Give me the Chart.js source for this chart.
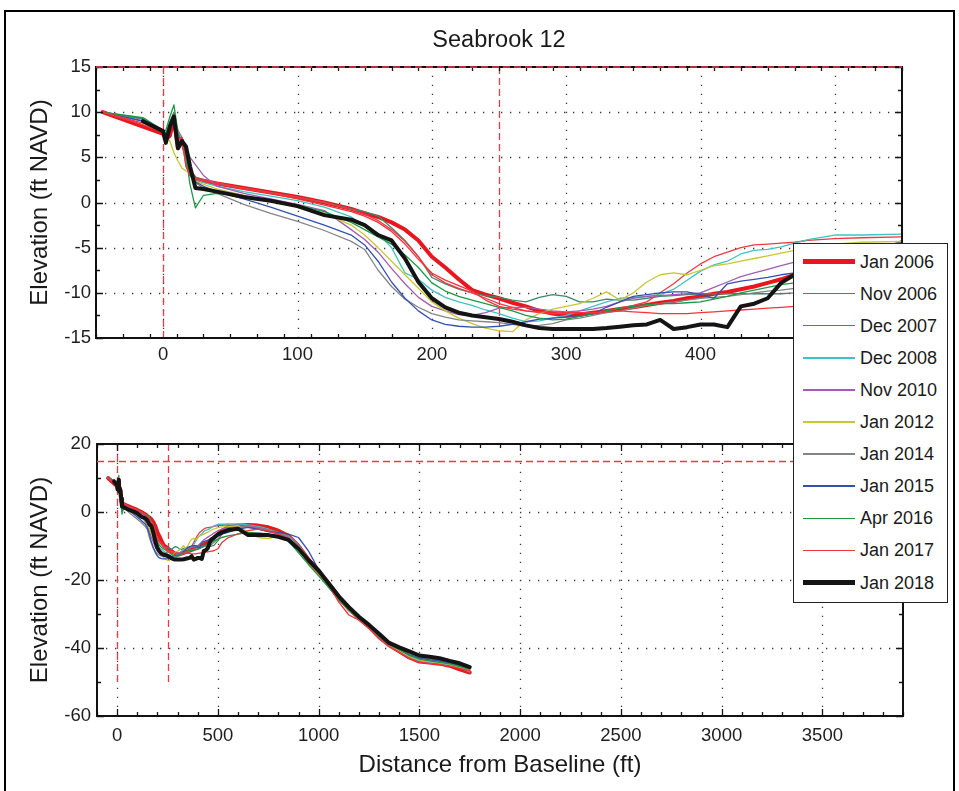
<!DOCTYPE html>
<html>
<head>
<meta charset="utf-8">
<script src="https://cdn.jsdelivr.net/npm/chart.js@4.4.1/dist/chart.umd.min.js"></script>
<style>
html,body{margin:0;padding:0;background:#fff;}
body{width:959px;height:791px;position:relative;overflow:hidden;}
#frame{position:absolute;left:4px;top:10px;width:951px;height:820px;border:2px solid #000;box-sizing:border-box;}
#c1{position:absolute;left:0;top:0;}
#c2{position:absolute;left:0;top:400px;}
#title{position:absolute;left:0;width:998px;text-align:center;color:#1a1a1a;white-space:nowrap;}
#legend{position:absolute;left:793px;top:243px;width:155px;height:360px;border:1.5px solid #222;background:#fff;box-sizing:border-box;}
.sw{position:absolute;left:8.5px;width:52px;}
.lt{position:absolute;left:66px;white-space:nowrap;color:#1a1a1a;}
</style>
</head>
<body>
<div id="frame"></div>
<canvas id="c1" width="959" height="400"></canvas>
<canvas id="c2" width="959" height="391"></canvas>
<div id="title">Seabrook 12</div>
<div id="legend"></div>
<script>
// ---------------- data (ft) ----------------
const distance = [-45,-15,0,2,5,8,11,14,17,20,24,
  30,40,60,80,100,120,140,
  150,160,170,180,190,200,210,220,230,240,250,260,270,280,290,300,310,320,330,340,350,360,370,380,390,400,410,420,430,440,450,460,470,480,
  500,520,550,
  600,650,700,750,800,850,900,950,1000,1050,1100,1150,1200,1250,1300,1350,1400,1450,1500,1550,1600,1650,1700,1750];

const jan2006 = [10,8.4,7.6,7.0,7.4,9.3,6.0,6.9,5.2,3.4,2.6,
  2.4,2.1,1.6,1.1,0.6,0.0,-0.7,
  -1.2,-1.6,-2.2,-3.0,-4.2,-6.0,-7.2,-8.5,-9.7,-10.2,-10.6,-11.1,-11.5,-12.0,-12.3,-12.5,-12.4,-12.2,-12.0,-11.8,-11.6,-11.35,-11.1,-10.9,-10.6,-10.4,-10.1,-9.9,-9.6,-9.3,-8.9,-8.5,-8.0,-7.6,
  -6.5,-5.5,-4.5,
  -4.0,-3.8,-4.0,-4.5,-5.5,-7.0,-10.0,-14.0,-17.5,-21.0,-25.0,-28.5,-31.2,-33.8,-36.8,-39.2,-41.0,-42.8,-44.0,-44.3,-44.6,-45.2,-46.3,-47.2];

const nov2006 = [10,9.4,8.0,7.6,9.0,10.0,7.5,7.0,4.0,3.2,2.8,
  2.5,2.1,1.6,1.1,0.6,0.0,-0.7,
  -1.0,-1.5,-2.8,-4.2,-6.0,-8.3,-9.0,-9.6,-10.0,-10.3,-10.5,-10.8,-11.0,-10.5,-10.2,-10.4,-11.0,-11.0,-10.7,-10.8,-10.8,-10.6,-10.4,-10.3,-10.2,-10.1,-10.1,-10.1,-10.1,-10.1,-10.1,-10.1,-10.0,-9.8,
  -8.5,-6.5,-4.2,
  -3.8,-4.0,-4.8,-5.5,-6.2,-7.5,-10.5,-14.5,-18.0,-21.5,-25.5,-28.5,-31.0,-33.5,-36.5,-38.8,-40.2,-41.8,-43.0,-43.5,-44.0,-44.6,-45.4,-46.2];

const dec2007 = [10,8.6,7.8,7.2,8.0,9.6,6.5,7.2,4.5,3.0,2.7,
  2.5,2.2,1.6,1.1,0.6,0.0,-0.8,
  -1.3,-2.0,-3.0,-4.3,-6.0,-8.0,-8.9,-9.5,-10.0,-10.6,-11.2,-11.6,-12.0,-12.2,-12.3,-12.3,-12.2,-12.2,-12.0,-11.7,-11.4,-11.0,-10.0,-9.0,-7.8,-6.8,-6.0,-5.5,-5.0,-4.7,-4.6,-4.5,-4.4,-4.2,
  -4.0,-3.9,-3.8,
  -4.0,-4.5,-5.0,-5.8,-6.5,-7.8,-11.0,-15.0,-18.5,-22.0,-26.0,-29.0,-31.5,-34.0,-37.0,-39.2,-40.8,-42.5,-43.5,-44.0,-44.3,-44.8,-45.8,-46.6];

const dec2008 = [10,9.0,7.9,7.5,8.5,9.8,7.0,7.0,4.5,3.0,2.6,
  2.2,1.8,1.2,0.7,0.2,-0.5,-1.6,
  -2.6,-3.4,-5.0,-7.8,-8.5,-9.7,-10.5,-11.0,-11.4,-11.9,-12.3,-12.8,-13.2,-13.1,-12.8,-12.5,-12.0,-11.5,-11.0,-10.6,-10.5,-10.4,-10.2,-9.6,-8.6,-7.6,-6.9,-6.5,-5.7,-5.3,-5.2,-4.9,-4.5,-4.1,
  -3.6,-3.6,-3.5,
  -3.5,-3.8,-4.2,-5.0,-6.0,-7.2,-10.2,-14.5,-18.0,-21.8,-25.5,-28.8,-31.5,-34.0,-37.0,-39.5,-41.0,-42.8,-43.8,-44.2,-44.5,-45.0,-45.8,-47.0];

const nov2010 = [10,9.2,7.8,7.4,8.6,9.5,8.0,7.2,6.0,5.0,4.2,
  3.0,1.8,1.0,0.4,-0.2,-0.9,-3.0,
  -4.1,-5.5,-7.3,-9.0,-10.5,-11.5,-12.0,-12.4,-12.5,-12.2,-11.7,-11.6,-11.6,-11.8,-12.0,-12.1,-12.0,-11.8,-11.5,-11.0,-10.6,-10.4,-10.3,-10.2,-10.1,-10.0,-9.4,-8.8,-8.2,-7.8,-7.4,-7.0,-6.6,-6.2,
  -5.5,-5.0,-4.8,
  -4.2,-4.0,-4.5,-5.2,-6.2,-7.5,-10.5,-14.5,-18.2,-21.8,-25.2,-28.6,-31.2,-33.8,-36.8,-39.0,-40.6,-42.2,-43.2,-43.7,-44.0,-44.6,-45.3,-46.0];

const jan2012 = [10,9.0,7.8,7.5,6.8,5.5,4.6,3.8,3.5,3.4,2.4,
  2.0,1.5,0.8,0.1,-0.5,-1.2,-2.5,
  -3.6,-5.0,-6.5,-8.0,-9.5,-11.0,-12.0,-12.8,-13.4,-13.9,-14.2,-14.3,-13.0,-12.3,-11.8,-11.5,-11.2,-10.6,-9.9,-10.8,-10.0,-8.8,-8.0,-7.8,-8.0,-7.5,-7.0,-6.8,-6.5,-6.2,-5.9,-5.6,-5.3,-5.0,
  -4.6,-4.4,-4.3,
  -4.0,-6.0,-7.5,-7.8,-7.0,-8.0,-10.5,-14.8,-18.5,-22.0,-25.6,-28.8,-31.5,-34.0,-37.0,-39.3,-40.8,-42.5,-43.5,-44.0,-44.3,-44.8,-45.6,-46.3];

const jan2014 = [10,9.0,7.8,7.4,8.5,9.8,7.0,7.0,5.0,3.0,2.2,
  1.6,1.0,-0.2,-1.2,-2.1,-3.1,-4.3,
  -5.2,-7.5,-9.3,-10.7,-11.6,-12.3,-12.7,-13.0,-13.1,-13.2,-13.3,-13.5,-13.7,-13.6,-13.4,-13.0,-12.8,-12.5,-12.2,-12.0,-11.7,-11.4,-11.2,-11.0,-10.8,-10.6,-10.5,-10.4,-10.2,-10.0,-9.8,-9.7,-9.5,-9.0,
  -8.0,-6.5,-5.0,
  -4.5,-4.2,-4.8,-5.2,-6.0,-7.0,-9.5,-13.8,-17.6,-21.2,-24.8,-28.2,-30.8,-33.2,-36.2,-38.6,-40.2,-41.8,-42.8,-43.2,-43.6,-44.2,-45.0,-46.0];

const jan2015 = [10,9.0,7.8,7.5,8.8,9.6,7.2,7.0,5.0,3.0,2.3,
  1.8,1.2,0.4,-0.5,-1.5,-2.5,-3.6,
  -4.7,-6.5,-8.8,-10.6,-12.0,-13.0,-13.5,-13.7,-13.8,-13.8,-13.7,-13.5,-13.2,-12.9,-12.8,-12.7,-12.6,-12.3,-11.6,-11.0,-10.4,-10.2,-10.0,-9.9,-9.9,-10.2,-10.6,-9.0,-8.7,-8.5,-8.3,-8.0,-7.8,-7.5,
  -7.0,-6.5,-6.0,
  -5.0,-4.5,-5.0,-5.8,-6.0,-6.5,-7.5,-11.5,-17.0,-21.0,-25.0,-28.5,-31.0,-33.6,-36.5,-38.8,-40.4,-42.0,-43.0,-43.5,-43.8,-44.4,-45.2,-46.0];

const apr2016 = [10,9.3,7.8,8.0,9.5,10.8,7.8,6.5,5.0,2.0,-0.6,
  0.8,1.0,0.7,0.2,-0.3,-1.0,-2.2,
  -3.0,-3.8,-4.6,-5.8,-7.2,-8.9,-9.8,-10.4,-10.8,-11.2,-11.6,-12.0,-12.5,-12.8,-13.0,-12.9,-12.6,-12.3,-12.0,-11.7,-11.5,-11.3,-11.2,-11.2,-11.1,-11.0,-10.7,-10.4,-10.0,-9.7,-9.4,-9.1,-8.9,-8.5,
  -8.0,-7.5,-7.0,
  -6.5,-6.0,-6.2,-6.5,-7.0,-8.5,-12.0,-15.5,-18.8,-22.2,-25.8,-28.8,-31.5,-34.2,-37.0,-39.0,-40.5,-42.2,-43.3,-43.8,-44.2,-44.7,-45.5,-46.3];

const jan2017 = [10,8.8,7.8,7.0,8.0,9.8,7.0,7.2,4.0,3.0,2.6,
  2.4,2.0,1.5,1.0,0.4,-0.3,-1.0,
  -1.5,-2.2,-3.2,-4.6,-6.3,-7.8,-8.6,-9.2,-9.8,-10.8,-11.5,-11.8,-12.0,-12.1,-12.1,-12.2,-12.2,-12.2,-12.1,-12.0,-12.1,-12.2,-12.3,-12.3,-12.3,-12.2,-12.1,-12.0,-11.9,-11.8,-11.7,-11.6,-11.5,-11.4,
  -10.8,-9.0,-7.6,
  -6.4,-5.5,-5.0,-5.5,-6.5,-8.0,-11.0,-14.8,-18.0,-21.5,-26.5,-30.3,-31.8,-34.2,-37.2,-39.5,-41.2,-43.0,-44.2,-44.5,-44.8,-45.3,-46.0,-46.8];

const jan2018 = [null,9.0,7.9,6.6,8.4,9.5,6.0,6.8,6.2,4.0,1.6,
  1.5,1.2,0.6,0.2,-0.4,-1.4,-1.9,
  -2.5,-3.6,-4.2,-6.2,-8.8,-10.6,-11.6,-12.2,-12.5,-12.7,-12.9,-13.2,-13.6,-13.9,-14.0,-14.0,-14.0,-14.0,-13.9,-13.75,-13.6,-13.5,-13.0,-14.0,-13.8,-13.5,-13.5,-13.8,-11.5,-11.2,-10.6,-8.9,-8.0,-7.6,
  -6.6,-6.0,-5.3,
  -4.9,-6.8,-6.7,-6.8,-7.3,-8.2,-10.8,-14.2,-17.2,-21.0,-24.8,-28.0,-30.8,-33.2,-35.8,-38.5,-39.8,-41.0,-42.2,-42.6,-43.0,-43.8,-44.5,-45.6];

const seriesLabels = ['Jan 2006','Nov 2006','Dec 2007','Dec 2008','Nov 2010','Jan 2012','Jan 2014','Jan 2015','Apr 2016','Jan 2017','Jan 2018'];
const seriesValues = [jan2006,nov2006,dec2007,dec2008,nov2010,jan2012,jan2014,jan2015,apr2016,jan2017,jan2018];

// tick labels
const topXTicks = [0,100,200,300,400,500];
const topYTicks = [-15,-10,-5,0,5,10,15];
const bottomXTicks = [0,500,1000,1500,2000,2500,3000,3500];
const bottomYTicks = [-60,-40,-20,0,20];
// reference lines
const profileLimits = [0,250];
const referenceElevation = 15;

// ---------------- styles ----------------
const seriesColors = ['#e8161e','#3a8a68','#ee3a44','#3cc3c3','#a15cb3','#c9c634','#858585','#3550b0','#1c9a45','#f5333d','#141414'];
const seriesWidths = [4,1.3,1.3,1.3,1.3,1.3,1.3,1.3,1.3,1.3,4];

function hasFont(name){
  const c=document.createElement('canvas').getContext('2d');
  const s='Seabrook Elevation 0123456789';
  for(const fb of ['monospace','serif']){
    c.font='40px '+fb; const w1=c.measureText(s).width;
    c.font='40px "'+name+'",'+fb; const w2=c.measureText(s).width;
    if(Math.abs(w1-w2)>0.5) return true;
  }
  return false;
}
const narrow = hasFont('Liberation Sans Narrow');
const FAMILY = narrow ? '"Liberation Sans Narrow","Liberation Sans",Arial,sans-serif' : '"Liberation Sans",Arial,sans-serif';
const SZ = narrow ? {tick:22, legend:21.5, title:28, axis:29} : {tick:18.5, legend:18, title:23.5, axis:24};

// title + legend (HTML text)
const titleEl = document.getElementById('title');
titleEl.style.fontFamily = FAMILY; titleEl.style.fontSize = SZ.title+'px';
titleEl.style.lineHeight = (SZ.title*1.2)+'px'; titleEl.style.top = (39 - SZ.title*0.6)+'px';

const legendEl = document.getElementById('legend');
seriesLabels.forEach((lab,i)=>{
  const cy = 17.5 + 32.1*i;
  const sw = document.createElement('div'); sw.className='sw';
  const th = seriesWidths[i] > 2 ? 5 : 1.6;
  sw.style.top = (cy - th/2)+'px'; sw.style.height = th+'px'; sw.style.background = seriesColors[i];
  const t = document.createElement('div'); t.className='lt'; t.textContent = lab;
  t.style.fontFamily = FAMILY; t.style.fontSize = SZ.legend+'px';
  t.style.lineHeight = '30px'; t.style.top = (cy - 15)+'px';
  legendEl.appendChild(sw); legendEl.appendChild(t);
});

// ---------------- axes frame plugin ----------------
const axesFrame = {
  id:'axesFrame',
  beforeDatasetsDraw(chart, args, o){
    const {ctx, chartArea:a, scales:{x,y}} = chart;
    ctx.save();
    ctx.lineWidth = 1.3; ctx.strokeStyle = '#3a3a3a'; ctx.setLineDash([1.3,7.7]);
    ctx.beginPath();
    o.xTicks.forEach(v=>{ const p=Math.round(x.getPixelForValue(v))+0.5; if(p>a.left+2&&p<a.right-2){ctx.moveTo(p,a.bottom);ctx.lineTo(p,a.top);} });
    o.yTicks.forEach(v=>{ const p=Math.round(y.getPixelForValue(v))+0.5; if(p>a.top+2&&p<a.bottom-2){ctx.moveTo(a.left,p);ctx.lineTo(a.right,p);} });
    ctx.stroke();
    ctx.strokeStyle = '#ee3a48'; ctx.lineWidth = 1.3; ctx.setLineDash([7,4]);
    ctx.beginPath();
    o.vLines.forEach(v=>{ const p=Math.round(x.getPixelForValue(v))+0.5; ctx.moveTo(p,y.getPixelForValue(o.vFrom)); ctx.lineTo(p,y.getPixelForValue(o.vTo)); });
    ctx.stroke();
    ctx.restore();
  },
  afterDatasetsDraw(chart, args, o){
    const {ctx, chartArea:a, scales:{x,y}} = chart;
    ctx.save();
    ctx.setLineDash([]);
    ctx.strokeStyle = '#151515'; ctx.lineWidth = 1.3;
    ctx.beginPath();
    const tick = (v, len, horiz) => {
      if(horiz){ const p=Math.round(x.getPixelForValue(v))+0.5; ctx.moveTo(p,a.bottom); ctx.lineTo(p,a.bottom-len); ctx.moveTo(p,a.top); ctx.lineTo(p,a.top+len); }
      else { const p=Math.round(y.getPixelForValue(v))+0.5; ctx.moveTo(a.left,p); ctx.lineTo(a.left+len,p); ctx.moveTo(a.right,p); ctx.lineTo(a.right-len,p); }
    };
    for(let v=x.min; v<=x.max+1e-9; v+=o.xMinor){ const major=o.xTicks.includes(Math.round(v*100)/100); tick(v, major?7:4, true); }
    for(let v=y.min; v<=y.max+1e-9; v+=o.yMinor){ const major=o.yTicks.includes(Math.round(v*100)/100); tick(v, major?7:4, false); }
    ctx.stroke();
    ctx.lineWidth = 2; ctx.strokeStyle = '#111';
    ctx.strokeRect(a.left, a.top, a.right-a.left, a.bottom-a.top);
    ctx.strokeStyle = '#ee3a48'; ctx.lineWidth = 1.4; ctx.setLineDash([7,4]);
    ctx.beginPath();
    const hp = y.getPixelForValue(o.hLine) + (o.hLine===y.max ? 0 : 0.5);
    ctx.moveTo(a.left,hp); ctx.lineTo(a.right,hp);
    ctx.stroke();
    ctx.restore();
  }
};

function buildChart(id, cfg){
  const datasets = seriesValues.map((vals,i)=>({
    label: seriesLabels[i],
    data: distance.map((d,k)=>({x:d, y:vals[k]})).filter(p=>p.y!==null),
    borderColor: seriesColors[i],
    backgroundColor: seriesColors[i],
    borderWidth: seriesWidths[i],
    pointRadius: 0, tension: 0, fill: false,
    borderJoinStyle: 'round', borderCapStyle: 'round',
    order: seriesLabels.length - 1 - i,
    clip: 0
  }));
  const tickFont = {family: FAMILY, size: SZ.tick};
  const axisFont = {family: FAMILY, size: SZ.axis};
  return new Chart(document.getElementById(id), {
    type: 'line',
    data: {datasets},
    plugins: [axesFrame],
    options: {
      responsive: false, animation: false, devicePixelRatio: 1,
      layout: {padding: cfg.padding},
      plugins: {
        legend: {display:false}, tooltip: {enabled:false}, title: {display:false},
        axesFrame: {xTicks: cfg.xTicks, yTicks: cfg.yTicks, xMinor: cfg.xMinor, yMinor: cfg.yMinor,
                    vLines: profileLimits, vFrom: cfg.vFrom, vTo: cfg.vTo, hLine: referenceElevation}
      },
      scales: {
        x: {
          type: 'linear', min: cfg.xMin, max: cfg.xMax,
          afterBuildTicks: s => { s.ticks = cfg.xTicks.map(v=>({value:v})); },
          afterFit: s => { s.height = cfg.xHeight; },
          grid: {display:false, drawTicks:false}, border: {display:false},
          ticks: {font: tickFont, color:'#1e1e1e', padding: cfg.xPad, maxRotation:0, autoSkip:false, callback: v => String(v)},
          title: cfg.xTitle ? {display:true, text: cfg.xTitle, font: axisFont, color:'#1a1a1a', padding:{top:0, bottom: cfg.xTitlePad}} : {display:false}
        },
        y: {
          type: 'linear', min: cfg.yMin, max: cfg.yMax,
          afterBuildTicks: s => { s.ticks = cfg.yTicks.map(v=>({value:v})); },
          afterFit: s => { s.width = cfg.yWidth; },
          grid: {display:false, drawTicks:false}, border: {display:false},
          ticks: {font: tickFont, color:'#1e1e1e', padding: cfg.yPad, autoSkip:false, callback: v => String(v)},
          title: {display:true, text:'Elevation (ft NAVD)', font: axisFont, color:'#1a1a1a', padding:{top: 40 - SZ.axis*0.6, bottom:0}}
        }
      }
    }
  });
}

const lhTick = SZ.tick*1.2;
buildChart('c1', {
  padding: {top:67, right:57, left:0, bottom:0},
  xMin:-50, xMax:550, yMin:-15, yMax:15,
  xTicks: topXTicks, yTicks: topYTicks, xMinor:20, yMinor:2.5,
  vFrom:-15, vTo:15,
  xHeight: 62, yWidth: 96,
  xPad: 355 - 338 - lhTick/2, yPad: 5
});
buildChart('c2', {
  padding: {top:44, right:56, left:0, bottom:0},
  xMin:-100, xMax:3900, yMin:-60, yMax:20,
  xTicks: bottomXTicks, yTicks: bottomYTicks, xMinor:100, yMinor:10,
  vFrom:20, vTo:-50,
  xHeight: 75, yWidth: 97,
  xPad: 736 - 716 - lhTick/2, yPad: 6,
  xTitle: 'Distance from Baseline (ft)', xTitlePad: 26 - SZ.axis*0.6
});
</script>
</body>
</html>
